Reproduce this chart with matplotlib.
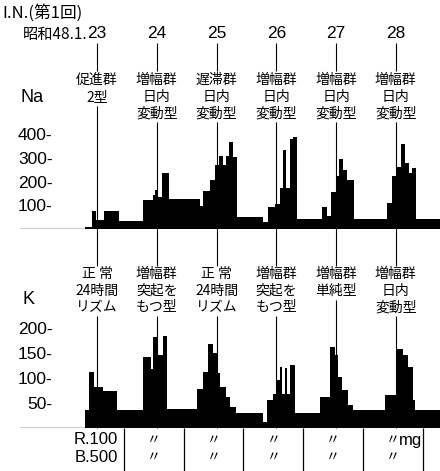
import matplotlib
matplotlib.use("Agg")
import matplotlib.pyplot as plt
from matplotlib.transforms import offset_copy

plt.rcParams['font.family'] = ['Noto Sans CJK JP', 'DejaVu Sans']
NARROW = ['Liberation Sans', 'DejaVu Sans']

# time axis in hours, 0 = first day mark (1973.1.23)
days = ["23", "24", "25", "26", "27", "28"]
day_hours = [0, 24, 48, 72, 96, 120]
dose_offset = 10.8  # dose marks in the table, hours after each day mark

# urinary Na excretion (step values between edges, hours)
na_edges = [-4.8, -2.1, -0.4, 2.8, 9.0, 18.6, 22.4, 23.3, 24.0, 26.0, 29.0,
            41.4, 42.6, 45.4, 47.4, 49.0, 50.6, 51.8, 53.0, 54.6, 56.2,
            66.7, 68.7, 71.5, 73.5, 74.7, 75.9, 77.5, 78.7, 80.3,
            90.4, 92.4, 94.0, 96.0, 97.2, 98.8, 100.4, 102.0, 103.2,
            116.5, 118.5, 120.5, 122.1, 123.7, 125.3, 126.5, 128.1, 137.8]
na_values = [8, 74, 38, 74, 34, 123, 145, 166, 137, 237,
             126, 98, 159, 206, 270, 310, 270, 308, 367, 305,
             52, 31, 92, 105, 174, 333, 174, 381, 387,
             42, 95, 56, 156, 226, 294, 249, 209, 209,
             42, 108, 222, 262, 357, 280, 237, 258, 44]

# urinary K excretion
k_edges = [-4.8, -3.1, -1.2, 2.3, 7.9, 18.6, 21.6, 22.6, 24.0, 26.6, 28.2,
           40.0, 42.7, 44.6, 46.6, 48.2, 49.4, 51.8, 53.4, 55.8,
           66.8, 68.2, 70.8, 72.2, 73.5, 74.2, 75.5, 76.2, 77.5, 79.5,
           89.6, 93.6, 95.6, 96.9, 98.3, 100.9, 102.9,
           115.7, 120.4, 123.0, 125.0, 127.0, 127.7, 137.8]
k_values = [36, 113, 83, 75, 36, 143, 119, 183, 146, 184,
            39, 79, 113, 168, 150, 110, 83, 63, 43,
            30, 13, 56, 69, 96, 123, 69, 120, 69, 126,
            30, 63, 163, 146, 103, 76, 46,
            37, 66, 159, 146, 123, 56, 37]

na_ticks = [100, 200, 300, 400]
k_ticks = [50, 100, 150, 200]

na_types = [["促進群", "2型"],
            ["増幅群", "日内", "変動型"],
            ["遅滞群", "日内", "変動型"],
            ["増幅群", "日内", "変動型"],
            ["増幅群", "日内", "変動型"],
            ["増幅群", "日内", "変動型"]]
k_types = [["正 常", "24時間", "リズム"],
           ["増幅群", "突起を", "もつ型"],
           ["正 常", "24時間", "リズム"],
           ["増幅群", "突起を", "もつ型"],
           ["増幅群", "単純型"],
           ["増幅群", "日内", "変動型"]]
dose_rows = ["R.100", "B.500"]

W, H = 440, 471
X0, PX_H = 97, 2.49          # pixel of first day line, pixels per hour
def hx(px):
    return (px - X0) / PX_H

fig = plt.figure(figsize=(W / 100, H / 100), dpi=100)

# overlay: x in hours, y in pixels from top (for labels and guide lines)
ov = fig.add_axes([0, 0, 1, 1])
ov.set_xlim(hx(0), hx(W))
ov.set_ylim(H, 0)
ov.axis("off")

def panel(base_px, ymax, scale, edges, values, ticks):
    ax = fig.add_axes([20 / W, 1 - base_px / H, 420 / W, ymax * scale / H])
    ax.set_xlim(hx(20), hx(W))
    ax.set_ylim(0, ymax)
    ax.patch.set_visible(False)
    for s in ax.spines.values():
        s.set_visible(False)
    ax.stairs(values, edges, fill=True, color="black", baseline=0)
    ax.axhline(0, color="black", lw=1.0)
    ax.set_xticks([])
    ax.set_yticks(ticks, labels=[f"{t}-" for t in ticks])
    ax.tick_params(axis="y", length=0, pad=-23.5)
    for lab in ax.get_yticklabels():
        lab.set_family(NARROW)
        lab.set_fontsize(12.5)
    return ax

ax_na = panel(229, 450, 0.2367, na_edges, na_values, na_ticks)
ax_k = panel(428, 230, 0.5, k_edges, k_values, k_ticks)

# titles
fig.text(2 / W, 1 - 13 / H, "I.N.(第1回)", fontsize=12, va="center", ha="left")
ov.text(day_hours[0], 34, "昭和48.1.", fontsize=11, va="center", ha="right",
        transform=offset_copy(ov.transData, fig=fig, x=-10, units="dots"))
for d, lab in zip(day_hours, days):
    ov.text(d, 34, lab, fontsize=12.5, family=NARROW, ha="center", va="center")

fig.text(32 / W, 1 - 97 / H, "Na", fontsize=13, family=NARROW, ha="center", va="center")
fig.text(28 / W, 1 - 300 / H, "K", fontsize=13, family=NARROW, ha="center", va="center")

ROW = 16.7
def label_block(d, y0, rows):
    for i, s in enumerate(rows):
        ov.text(d, y0 + i * ROW, s, fontsize=10, ha="center", va="center")
    return y0 + (len(rows) - 1) * ROW + 9

for d, na_t, k_t in zip(day_hours, na_types, k_types):
    ov.vlines(d, 43, 71, color="black", lw=0.8)
    na_bot = label_block(d, 80, na_t)
    ov.vlines(d, na_bot, 266, color="black", lw=0.8)
    k_bot = label_block(d, 274, k_t)
    ov.vlines(d, k_bot, 428, color="black", lw=0.8)

# dose table
seps = [d + dose_offset for d in day_hours]
ov.vlines(seps, 428, H, color="black", lw=0.9)
for r, (txt, y) in enumerate(zip(dose_rows, [440, 457])):
    ov.text(seps[0], y, txt, fontsize=12, family=NARROW, ha="right", va="center",
            transform=offset_copy(ov.transData, fig=fig, x=-6, units="dots"))
    for a, b in zip(seps[:-1], seps[1:]):
        ov.text((a + b) / 2, y, "〃", fontsize=10, ha="center", va="center")
ov.text((seps[-2] + seps[-1]) / 2, 440, "mg", fontsize=12, family=NARROW,
        ha="left", va="center",
        transform=offset_copy(ov.transData, fig=fig, x=6, units="dots"))

fig.savefig("out.png", dpi=100, facecolor="white")
